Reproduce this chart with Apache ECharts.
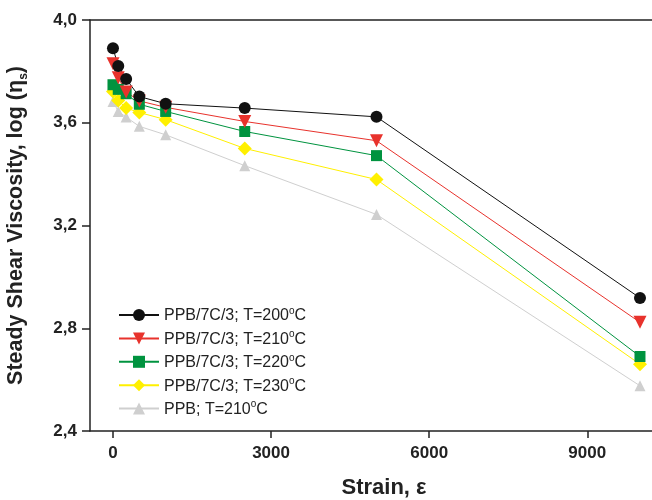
<!DOCTYPE html>
<html>
<head>
<meta charset="utf-8">
<script src="https://cdn.jsdelivr.net/npm/echarts@6/dist/echarts.min.js"></script>
<style>html,body{margin:0;padding:0;background:#fff;}#c{width:652px;height:500px;}</style>
</head>
<body>
<div id="c"></div>
<script>
var strain = [0, 100, 250, 500, 1000, 2500, 5000, 10000];
var t200 = [3.89, 3.821, 3.77, 3.702, 3.674, 3.657, 3.623, 2.918];
var t210 = [3.83, 3.775, 3.72, 3.685, 3.66, 3.605, 3.53, 2.823];
var t220 = [3.748, 3.73, 3.713, 3.672, 3.644, 3.566, 3.472, 2.69];
var t230 = [3.722, 3.687, 3.657, 3.64, 3.612, 3.5, 3.379, 2.66];
var ppb210 = [3.683, 3.644, 3.622, 3.586, 3.553, 3.433, 3.243, 2.576];
var xTicks = [0, 3000, 6000, 9000];
var seriesNames = ['PPB/7C/3; T=200\u00b0C', 'PPB/7C/3; T=210\u00b0C', 'PPB/7C/3; T=220\u00b0C', 'PPB/7C/3; T=230\u00b0C', 'PPB; T=210\u00b0C'];

function pairs(ys){ return strain.map(function(x,i){ return [x, ys[i]]; }); }

var chart = echarts.init(document.getElementById('c'), null, {renderer:'canvas'});
var font = 'Liberation Sans, Arial, sans-serif';
function mk(name, ys, color, symbol, size, rotate){
  return {
    name: name, type: 'line', data: pairs(ys),
    symbol: symbol, symbolSize: size, symbolRotate: rotate || 0,
    lineStyle: {color: color, width: 1},
    itemStyle: {color: color},
    z: 10
  };
}
var option = {
  animation: false,
  backgroundColor: '#fff',
  grid: {left: 90, top: 20, right: 0, bottom: 69, show: false, containLabel: false, outerBoundsMode: 'none'},
  legend: {
    orient: 'vertical', left: 113, top: 301,
    itemWidth: 40, itemHeight: 15, itemGap: 5.4,
    data: seriesNames,
    textStyle: {
      fontFamily: font, fontSize: 16, color: '#222', lineHeight: 18,
      rich: { sup: {fontSize: 10, lineHeight: 10, padding: [0, 0, 8, 0], verticalAlign: 'bottom', fontFamily: font, color: '#222'},
              n: {fontSize: 16, lineHeight: 18, verticalAlign: 'bottom', fontFamily: font, color: '#222'} }
    },
    formatter: function(n){ var p = n.split('\u00b0'); return '{n|' + p[0] + '}{sup|o}{n|' + p[1] + '}'; }
  },
  xAxis: [{
    type: 'value', min: -436, max: 10228,
    name: 'Strain, \u03b5', nameLocation: 'middle', nameGap: 46,
    nameTextStyle: {fontFamily: font, fontSize: 22, fontWeight: 'bold', color: '#222', padding: [0, 0, 0, 26]},
    axisLine: {show: true, onZero: false, lineStyle: {color: '#222', width: 1.5}},
    axisTick: {show: true, inside: false, length: 7, customValues: xTicks, lineStyle: {color: '#222', width: 1.5}},
    axisLabel: {customValues: xTicks, margin: 14, fontFamily: font, fontSize: 17, fontWeight: 'bold', color: '#222',
      formatter: function(v){ return String(v); }},
    splitLine: {show: false}
  }, {
    type: 'value', position: 'top', min: -436, max: 10228,
    axisLine: {show: true, onZero: false, lineStyle: {color: '#222', width: 1.5}},
    axisTick: {show: false}, axisLabel: {show: false}, splitLine: {show: false}
  }],
  yAxis: {
    type: 'value', min: 2.4, max: 4.0, interval: 0.4,
    name: 'Steady Shear Viscosity, log (\u03b7{sub|s})', nameLocation: 'middle', nameGap: 60,
    nameTextStyle: {fontFamily: font, fontSize: 21.5, fontWeight: 'bold', color: '#222',
      rich: {sub: {fontSize: 12, fontWeight: 'bold', verticalAlign: 'bottom', lineHeight: 27, fontFamily: font, color: '#222'}}},
    axisLine: {show: true, onZero: false, lineStyle: {color: '#222', width: 1.5}},
    axisTick: {show: true, inside: false, length: 8, lineStyle: {color: '#222', width: 1.5}},
    axisLabel: {margin: 13, fontFamily: font, fontSize: 17, fontWeight: 'bold', color: '#222',
      formatter: function(v){ return v.toFixed(1).replace('.', ','); }},
    splitLine: {show: false}
  },
  series: [
    mk(seriesNames[4], ppb210, '#cfcfcf', 'triangle', 11),
    mk(seriesNames[3], t230, '#fff000', 'diamond', 14),
    mk(seriesNames[2], t220, '#00933f', 'rect', 11),
    mk(seriesNames[1], t210, '#e8322c', 'triangle', 13, 180),
    mk(seriesNames[0], t200, '#111111', 'circle', 12)
  ]
};
chart.setOption(option);
</script>
</body>
</html>
